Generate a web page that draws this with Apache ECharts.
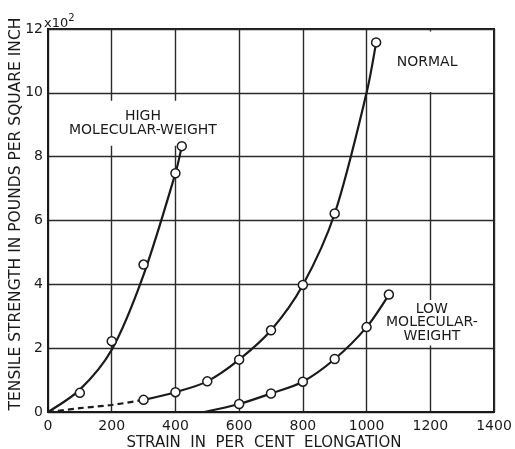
<!DOCTYPE html>
<html>
<head>
<meta charset="utf-8">
<script src="https://cdn.jsdelivr.net/npm/echarts@6/dist/echarts.min.js"></script>
<style>
html,body{margin:0;padding:0;background:#fff;}
#chart{width:515px;height:449px;}
</style>
</head>
<body>
<div id="chart"></div>
<script>
// ---- data ----
const xTicks = [0, 200, 400, 600, 800, 1000, 1200, 1400];
const yTicks = [0, 2, 4, 6, 8, 10, 12];

// measured points (strain %, tensile strength x100 psi)
const highPoints   = [[100, 0.6], [200, 2.22], [300, 4.62], [400, 7.48], [420, 8.33]];
const normalPoints = [[300, 0.38], [400, 0.62], [500, 0.96], [600, 1.64], [700, 2.56], [800, 3.98], [900, 6.22], [1030, 11.58]];
const lowPoints    = [[600, 0.25], [700, 0.58], [800, 0.95], [900, 1.66], [1000, 2.66], [1070, 3.68]];

// drawn curves
const highCurve       = [[0, 0], [100, 0.7], [200, 1.95], [300, 4.3], [400, 7.48], [420, 8.33]];
const normalDashCurve = [[0, 0], [100, 0.12], [200, 0.22], [300, 0.38]];
const normalCurve     = [[300, 0.38], [400, 0.62], [500, 0.96], [600, 1.64], [700, 2.56], [800, 3.98], [900, 6.22], [1000, 10.0], [1030, 11.58]];
const lowCurve        = [[490, 0], [600, 0.25], [700, 0.58], [800, 0.95], [900, 1.66], [1000, 2.66], [1070, 3.68]];

// curve labels (placed in data coordinates)
const curveLabels = [
  { name: 'HIGH\nMOLECULAR-WEIGHT', value: [298, 9.05] },
  { name: 'NORMAL', value: [1190, 10.97] },
  { name: 'LOW\nMOLECULAR-\nWEIGHT', value: [1205, 2.8] }
];
const labelPads = [[15, 3, 3, 3], [24, 5, 23, 5], [2, 3, 3, 3]];

const ink = '#1a1a1a';
const font = 'DejaVu Sans';

const chart = echarts.init(document.getElementById('chart'), null, { renderer: 'canvas' });

const lineSeries = (data, dashed) => ({
  type: 'line', data: data, smooth: 0.3, showSymbol: false, symbol: 'none',
  z: 3, silent: true,
  lineStyle: { color: ink, width: 2.2, type: dashed ? [6, 4] : 'solid' }
});
const pointSeries = (data) => ({
  type: 'scatter', data: data, symbol: 'circle', symbolSize: 9, z: 4, silent: true,
  itemStyle: { color: '#fff', borderColor: ink, borderWidth: 1.5, opacity: 1 }
});

chart.setOption({
  backgroundColor: '#fff',
  animation: false,
  grid: { left: 48, right: 21, top: 29, bottom: 37, outerBoundsMode: 'none', containLabel: false,
    show: true, borderColor: ink, borderWidth: 2, backgroundColor: 'transparent' },
  xAxis: {
    type: 'value', min: 0, max: 1400, interval: 200,
    name: 'STRAIN  IN  PER  CENT  ELONGATION', nameLocation: 'middle', nameGap: 24,
    nameMoveOverlap: false,
    nameTextStyle: { fontFamily: font, fontSize: 15, color: ink, padding: [0, 14, 0, 0] },
    axisLine: { show: true, lineStyle: { color: ink, width: 2 } },
    axisTick: { show: false },
    axisLabel: { margin: 7, fontFamily: font, fontSize: 14, color: ink,
      formatter: v => xTicks.includes(v) ? String(v) : '' },
    splitLine: { show: true, lineStyle: { color: '#2a2a2a', width: 1.4 } }
  },
  yAxis: {
    type: 'value', min: 0, max: 12, interval: 2,
    name: 'TENSILE STRENGTH IN POUNDS PER SQUARE INCH', nameLocation: 'middle', nameGap: 24,
    nameMoveOverlap: false,
    nameTextStyle: { fontFamily: font, fontSize: 15.5, color: ink, padding: [0, 0, 0, 13] },
    axisLine: { show: true, lineStyle: { color: ink, width: 2 } },
    axisTick: { show: false },
    axisLabel: { margin: 5, fontFamily: font, fontSize: 14, color: ink,
      formatter: v => yTicks.includes(v) ? String(v) : '' },
    splitLine: { show: true, lineStyle: { color: '#2a2a2a', width: 1.4 } }
  },
  series: [
    {
      type: 'scatter', symbolSize: 0, z: 2, silent: true,
      data: curveLabels.map((d, i) => ({ name: d.name, value: d.value, label: { padding: labelPads[i] } })),
      label: {
        show: true, position: 'inside', formatter: p => p.name,
        fontFamily: font, fontSize: 14, lineHeight: 13.5, color: ink, align: 'center',
        textBorderWidth: 0, textBorderColor: 'transparent', opacity: 1,
        backgroundColor: '#fff'
      }
    },
    lineSeries(highCurve, false),
    lineSeries(normalDashCurve, true),
    lineSeries(normalCurve, false),
    lineSeries(lowCurve, false),
    pointSeries(highPoints),
    pointSeries(normalPoints),
    pointSeries(lowPoints)
  ]
});

// exponent marker next to the top y tick "12"
const topPx = chart.convertToPixel({ gridIndex: 0 }, [0, 12]);
chart.setOption({
  graphic: [{
    type: 'text', left: topPx[0] - 4, top: topPx[1] - 16, z: 10,
    style: { text: '{a|x10}{b|2}', fill: ink,
      rich: { a: { fontFamily: font, fontSize: 13, fill: ink, padding: [4, 0, 0, 0] },
              b: { fontFamily: font, fontSize: 10, fill: ink, verticalAlign: 'top' } } }
  }]
});
</script>
</body>
</html>
